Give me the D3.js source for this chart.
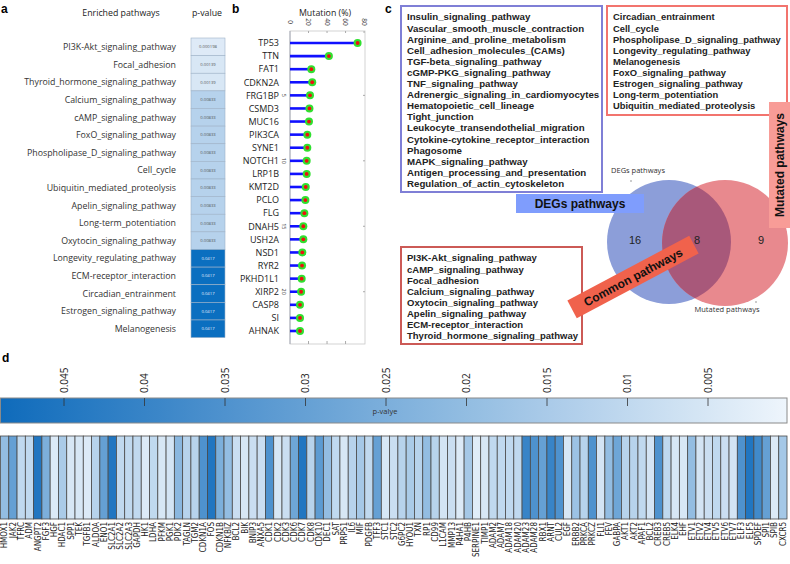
<!DOCTYPE html>
<html><head><meta charset="utf-8">
<script src="https://cdn.jsdelivr.net/npm/d3@7/dist/d3.min.js"></script>
<style>body{margin:0;background:#fff}svg{display:block}</style></head>
<body><svg id="chart" width="790" height="564"></svg>
<script>
// ---------- DATA ----------
const pathwaysA = ["PI3K-Akt_signaling_pathway","Focal_adhesion","Thyroid_hormone_signaling_pathway","Calcium_signaling_pathway","cAMP_signaling_pathway","FoxO_signaling_pathway","Phospholipase_D_signaling_pathway","Cell_cycle","Ubiquitin_mediated_proteolysis","Apelin_signaling_pathway","Long-term_potentiation","Oxytocin_signaling_pathway","Longevity_regulating_pathway","ECM-receptor_interaction","Circadian_entrainment","Estrogen_signaling_pathway","Melanogenesis"];
const pvalsA = [0.000198,0.00139,0.00139,0.00833,0.00833,0.00833,0.00833,0.00833,0.00833,0.00833,0.00833,0.00833,0.0417,0.0417,0.0417,0.0417,0.0417];
const pvalLabelsA = ["0.000198","0.00139","0.00139","0.00833","0.00833","0.00833","0.00833","0.00833","0.00833","0.00833","0.00833","0.00833","0.0417","0.0417","0.0417","0.0417","0.0417"];

const genesB = ["TP53","TTN","FAT1","CDKN2A","FRG1BP","CSMD3","MUC16","PIK3CA","SYNE1","NOTCH1","LRP1B","KMT2D","PCLO","FLG","DNAH5","USH2A","NSD1","RYR2","PKHD1L1","XIRP2","CASP8","SI","AHNAK"];
const mutB = [73,42,23,24,21.6,21,20.5,18.7,18.7,18,18,17,16.6,15.5,14.4,14.4,13.3,13,12.6,12,10.8,10.8,10.8];
const mutTicks = [0,20,40,60,80];
const rowTicksB = [5,10,15,20];

const degOnly = ["Insulin_signaling_pathway","Vascular_smooth_muscle_contraction","Arginine_and_proline_metabolism","Cell_adhesion_molecules_(CAMs)","TGF-beta_signaling_pathway","cGMP-PKG_signaling_pathway","TNF_signaling_pathway","Adrenergic_signaling_in_cardiomyocytes","Hematopoietic_cell_lineage","Tight_junction","Leukocyte_transendothelial_migration","Cytokine-cytokine_receptor_interaction","Phagosome","MAPK_signaling_pathway","Antigen_processing_and_presentation","Regulation_of_actin_cytoskeleton"];
const mutOnly = ["Circadian_entrainment","Cell_cycle","Phospholipase_D_signaling_pathway","Longevity_regulating_pathway","Melanogenesis","FoxO_signaling_pathway","Estrogen_signaling_pathway","Long-term_potentiation","Ubiquitin_mediated_proteolysis"];
const commonP = ["PI3K-Akt_signaling_pathway","cAMP_signaling_pathway","Focal_adhesion","Calcium_signaling_pathway","Oxytocin_signaling_pathway","Apelin_signaling_pathway","ECM-receptor_interaction","Thyroid_hormone_signaling_pathway"];
const vennCounts = [16,8,9];

const heatGenes = ["HMOX1","JAK2","TFRC","ADM","ANGPT2","FGF3","HGF","HDAC1","SPP1","TEK","TGFB1","ALDOA","ENO1","SLC2A1","SLC2A2","SLC2A3","GAPDH","HK1","LDHA","PFKM","PGK1","PDK2","TAGLN","TGM2","CDKN1A","FOS","CDKN1B","NFKBIZ","BCL2","BIK","BNIP3","ANXA5","CDK1","CDK2","CDK3","CDK6","CDK7","CDK8","CDK10","DEC1","SAT","PRPS1","IL6","MIF","PDGFB","TFF3","STC1","STC2","G6PC2","HYOU1","TXN","RP1","CD99","L1CAM","MMP13","P4HA1","P4HB","SERPINE1","TIMP1","ADAM2","ADAM7","ADAM18","ADAM20","ADAM23","ADAM28","RBX1","ARNT","CUL2","EGF","ERBB2","PRKCA","PRKCZ","FLI1","FEV","GABPA","AKT1","AKT2","APAF1","BCL2","CREB3","CREB5","ELK4","EHF","ETV1","ETV2","ETV4","ETV5","ETV6","ETV7","ELF3","ELF5","SPDEF","SPI1","SPIB","CXCR5"];
const heatP = [0.02,0.03,0.01,0.01,0.045,0.025,0.004,0.015,0.005,0.005,0.004,0.012,0.03,0.045,0.01,0.01,0.01,0.004,0.01,0.005,0.006,0.022,0.012,0.012,0.035,0.045,0.025,0.02,0.008,0.005,0.008,0.008,
0.035,0.005,0.008,0.028,0.045,0.012,0.032,0.02,0.01,0.005,0.012,0.016,0.01,0.03,0.005,0.008,0.012,0.015,0.012,0.02,0.012,0.006,0.008,0.004,0.016,0.003,0.005,0.01,0.01,0.01,0.01,0.04,
0.035,0.03,0.04,0.035,0.005,0.018,0.012,0.035,0.006,0.02,0.028,0.012,0.012,0.01,0.006,0.035,0.01,0.005,0.005,0.02,0.006,0.008,0.01,0.008,0.006,0.035,0.045,0.038,0.03,0.004,0.016];
const cbTicks = [0.045,0.04,0.035,0.03,0.025,0.02,0.015,0.01,0.005];

// ---------- DRAW ----------
const svg = d3.select("#chart");
const sans = "'Open Sans', sans-serif";
const arialB = "'Liberation Sans', Arial, sans-serif";
const defs = svg.append("defs");

function panelLabel(t,x,y){svg.append("text").attr("x",x).attr("y",y).attr("font-family",arialB).attr("font-weight","bold").attr("font-size",12).text(t);}

// ---- Panel a ----
panelLabel("a",1,13);
svg.append("text").attr("x",121).attr("y",16).attr("text-anchor","middle").attr("font-family",sans).attr("font-size",8.8).attr("fill","#222").text("Enriched pathways");
svg.append("text").attr("x",207).attr("y",16).attr("text-anchor","middle").attr("font-family",sans).attr("font-size",8.8).attr("fill","#222").text("p-value");
const yA = d3.scaleBand().domain(pathwaysA).range([38,337.6]);
const colA = d3.scaleLinear().domain([0,0.00833,0.0417]).range(["#dfebf7","#b6d2ec","#0b6fc0"]);
const ga = svg.append("g");
ga.selectAll("text.pw").data(pathwaysA).join("text").attr("class","pw")
  .attr("x",176).attr("y",d=>yA(d)+yA.bandwidth()/2+3.2).attr("text-anchor","end")
  .attr("font-family",sans).attr("font-size",8.8).attr("fill","#333").text(d=>d);
ga.selectAll("rect").data(pathwaysA).join("rect")
  .attr("x",191).attr("width",34).attr("y",d=>yA(d)).attr("height",yA.bandwidth())
  .attr("fill",(d,i)=>colA(pvalsA[i])).attr("stroke","#9fb3c8").attr("stroke-width",0.6);
ga.selectAll("text.pv").data(pathwaysA).join("text").attr("class","pv")
  .attr("x",208).attr("y",d=>yA(d)+yA.bandwidth()/2+1.5).attr("text-anchor","middle")
  .attr("font-family",sans).attr("font-size",4.2).attr("fill",(d,i)=>pvalsA[i]>0.02?"#e8f0ff":"#555").text((d,i)=>pvalLabelsA[i]);

// ---- Panel b ----
panelLabel("b",232,13);
svg.append("text").attr("x",325).attr("y",16).attr("text-anchor","middle").attr("font-family",sans).attr("font-size",8.8).attr("fill","#222").text("Mutation (%)");
const xB = d3.scaleLinear().domain([0,81]).range([290,365]);
const yB = d3.scalePoint().domain(genesB).range([43,331]);
const yTop = 31, yBot = 344;
const gb = svg.append("g");
gb.append("rect").attr("x",290).attr("y",yTop).attr("width",75).attr("height",yBot-yTop).attr("fill","none").attr("stroke","#c8c8c8").attr("stroke-width",0.8);
gb.append("line").attr("x1",290).attr("x2",290).attr("y1",yTop).attr("y2",yBot).attr("stroke","#a8acb8").attr("stroke-width",1);
gb.selectAll("text.tx").data(mutTicks).join("text").attr("class","tx")
  .attr("transform",d=>`translate(${xB(d)-2.5},${yTop-9}) rotate(90)`).attr("text-anchor","middle")
  .attr("font-family",sans).attr("font-size",6.5).attr("fill","#333").text(d=>d);
gb.selectAll("line.tt").data(mutTicks.slice(1)).join("line").attr("class","tt")
  .attr("x1",d=>xB(d)).attr("x2",d=>xB(d)).attr("y1",yTop).attr("y2",yTop+2).attr("stroke","#aaa");
gb.selectAll("line.bt").data(mutTicks.slice(1,4)).join("line").attr("class","bt")
  .attr("x1",d=>xB(d)).attr("x2",d=>xB(d)).attr("y1",yBot).attr("y2",yBot-3).attr("stroke","#aaa");
gb.selectAll("line.rt").data(rowTicksB).join("line").attr("class","rt")
  .attr("x1",363).attr("x2",365).attr("y1",d=>yB(genesB[d-1])).attr("y2",d=>yB(genesB[d-1])).attr("stroke","#aaa");
gb.selectAll("text.rl").data(rowTicksB).join("text").attr("class","rl")
  .attr("transform",d=>`translate(${282},${yB(genesB[d-1])}) rotate(90)`).attr("text-anchor","middle")
  .attr("font-family",sans).attr("font-size",5.5).attr("fill","#333").text(d=>d);
gb.selectAll("text.g").data(genesB).join("text").attr("class","g")
  .attr("x",279).attr("y",d=>yB(d)+3.3).attr("text-anchor","end")
  .attr("font-family",sans).attr("font-size",9).attr("fill","#222").text(d=>d);
gb.selectAll("line.st").data(genesB).join("line").attr("class","st")
  .attr("x1",xB(0)).attr("x2",(d,i)=>xB(mutB[i])).attr("y1",d=>yB(d)).attr("y2",d=>yB(d))
  .attr("stroke","#1010ff").attr("stroke-width",2.6);
gb.selectAll("circle.gr").data(genesB).join("circle").attr("class","gr")
  .attr("cx",(d,i)=>xB(mutB[i])).attr("cy",d=>yB(d)).attr("r",4).attr("fill","#2fe02f");
gb.selectAll("circle.rd").data(genesB).join("circle").attr("class","rd")
  .attr("cx",(d,i)=>xB(mutB[i])).attr("cy",d=>yB(d)).attr("r",1.9).attr("fill","#ee1010");

// ---- Panel c ----
panelLabel("c",385,13);
function listBox(items,x,y,w,h,stroke,startY,fs){
  svg.append("rect").attr("x",x).attr("y",y).attr("width",w).attr("height",h).attr("fill","#fff").attr("stroke",stroke).attr("stroke-width",2);
  svg.append("g").selectAll("text").data(items).join("text")
    .attr("x",x+6).attr("y",(d,i)=>startY+i*11.1+3.4)
    .attr("font-family",arialB).attr("font-weight","bold").attr("font-size",fs).attr("fill","#222").text(d=>d);
}
listBox(degOnly,401,6,201,186,"#7f7fd6",17,9.7);
listBox(mutOnly,607,6,180,109,"#f2746e",17,9.4);
listBox(commonP,401,247,181,97,"#cc5a56",258,9.5);

// Venn
const venn = {b:{cx:669,cy:242,r:62},m:{cx:725,cy:243,r:63}};
defs.append("clipPath").attr("id","clipB").append("circle").attr("cx",venn.b.cx).attr("cy",venn.b.cy).attr("r",venn.b.r);
svg.append("circle").attr("cx",venn.b.cx).attr("cy",venn.b.cy).attr("r",venn.b.r).attr("fill","#8c9ed9");
svg.append("circle").attr("cx",venn.m.cx).attr("cy",venn.m.cy).attr("r",venn.m.r).attr("fill","#e8898e");
svg.append("circle").attr("cx",venn.m.cx).attr("cy",venn.m.cy).attr("r",venn.m.r).attr("fill","#a8587a").attr("clip-path","url(#clipB)");
svg.append("text").attr("x",638).attr("y",173).attr("text-anchor","middle").attr("font-family",sans).attr("font-size",7.5).attr("fill","#333").text("DEGs pathways");
svg.append("text").attr("x",727).attr("y",312).attr("text-anchor","middle").attr("font-family",sans).attr("font-size",7.5).attr("fill","#333").text("Mutated pathways");
svg.append("line").attr("x1",631).attr("x2",631).attr("y1",180).attr("y2",182).attr("stroke","#555").attr("stroke-width",0.6);
svg.append("line").attr("x1",755).attr("x2",757).attr("y1",302).attr("y2",302).attr("stroke","#555").attr("stroke-width",0.6);
const vnx = [635,697,761];
svg.append("g").selectAll("text").data(vennCounts).join("text")
  .attr("x",(d,i)=>vnx[i]).attr("y",244).attr("text-anchor","middle")
  .attr("font-family",arialB).attr("font-size",11).attr("fill","#222").text(d=>d);

// Mutated pathways vertical label (on top of venn)
svg.append("rect").attr("x",769).attr("y",102).attr("width",22).attr("height",126).attr("fill","#f89c97");
svg.append("text").attr("transform","translate(784,165) rotate(-90)").attr("text-anchor","middle")
  .attr("font-family",arialB).attr("font-weight","bold").attr("font-size",12).attr("fill","#111").text("Mutated pathways");

// DEGs label
svg.append("rect").attr("x",516).attr("y",194).attr("width",128).attr("height",19).attr("fill","#7f9dfd");
svg.append("text").attr("x",580).attr("y",208).attr("text-anchor","middle").attr("font-family",arialB).attr("font-weight","bold").attr("font-size",12).attr("fill","#111").text("DEGs pathways");

// Common pathways label
const cg = svg.append("g").attr("transform","translate(633,277) rotate(-28)");
cg.append("rect").attr("x",-69).attr("y",-10).attr("width",138).attr("height",20).attr("fill","#f0624c");
cg.append("text").attr("x",0).attr("y",4.5).attr("text-anchor","middle").attr("font-family",arialB).attr("font-weight","bold").attr("font-size",12).attr("fill","#111").text("Common pathways");

// ---- Panel d ----
panelLabel("d",2,362);
const xC = d3.scaleLinear().domain([0,0.005]).range([788.5,708]);
const colH = d3.scaleLinear().domain([0,0.05]).range(["#eef5fc","#0a68ba"]);
const grad = defs.append("linearGradient").attr("id","cbg").attr("x1","0%").attr("x2","100%");
const pL = xC.invert(0), pR = xC.invert(787);
d3.range(0,11).forEach(k=>{const p=pL+(pR-pL)*k/10; grad.append("stop").attr("offset",(k*10)+"%").attr("stop-color",colH(p));});
svg.append("rect").attr("x",0.5).attr("y",398).attr("width",786.5).attr("height",25).attr("fill","url(#cbg)").attr("stroke","#8a8a8a").attr("stroke-width",1);
svg.append("g").selectAll("line").data(cbTicks).join("line")
  .attr("x1",d=>xC(d)).attr("x2",d=>xC(d)).attr("y1",398).attr("y2",406).attr("stroke","#333").attr("stroke-width",0.8);
svg.append("g").selectAll("text").data(cbTicks).join("text")
  .attr("transform",d=>`translate(${xC(d)+3.5},393) rotate(-90)`).attr("text-anchor","start")
  .attr("font-family",sans).attr("font-size",10).attr("fill","#222").text(d=>d);
svg.append("text").attr("x",385).attr("y",414).attr("text-anchor","middle").attr("font-family",sans).attr("font-size",7.5).attr("fill","#333").text("p-valye");

const xH = d3.scaleBand().domain(d3.range(heatGenes.length)).range([0.5,787]);
const gh = svg.append("g");
gh.selectAll("rect").data(heatP).join("rect")
  .attr("x",(d,i)=>xH(i)).attr("width",xH.bandwidth()).attr("y",436).attr("height",83)
  .attr("fill",d=>colH(d)).attr("stroke","#4a4a4a").attr("stroke-width",0.8);
gh.selectAll("text").data(heatGenes).join("text")
  .attr("transform",(d,i)=>`translate(${xH(i)+xH.bandwidth()/2+2.8},522) rotate(-90)`).attr("text-anchor","end")
  .attr("font-family","'Liberation Sans Narrow','DejaVu Sans Condensed',sans-serif").attr("font-size",8).attr("fill","#222").text(d=>d);
</script></body></html>
